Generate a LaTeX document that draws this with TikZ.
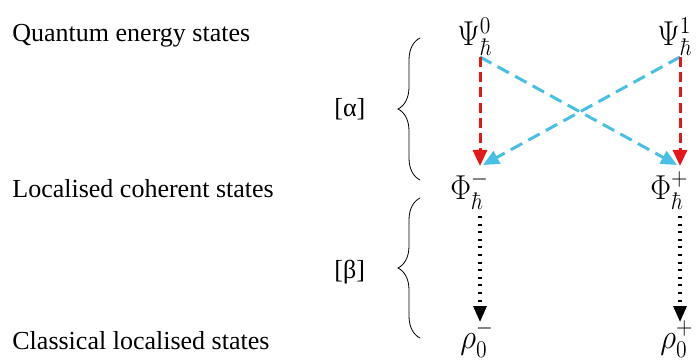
\documentclass[tikz,border=0pt]{standalone}
\usepackage[no-math]{fontspec}
\setmainfont{Liberation Serif}
\usepackage{amsmath}
\usetikzlibrary{arrows.meta, positioning, calc, decorations.pathreplacing}
\definecolor{redline}{RGB}{228,24,24}
\definecolor{skyline}{RGB}{72,192,230}
\newcommand{\narrow}[1]{\scalebox{0.9}[1]{#1}}

\begin{document}
\begin{tikzpicture}[x=0.5pt, y=-0.5pt,
  rowlabel/.style={anchor=base west, inner sep=0pt, font=\fontsize{13}{15}\selectfont},
  state/.style={anchor=base west, inner sep=0pt, font=\fontsize{18}{21}\selectfont},
  redarrow/.style={redline, line width=1.5pt, dash pattern=on 5pt off 2.6pt, -{Triangle[width=7pt,length=8pt]}},
  skyarrow/.style={skyline, line width=1.5pt, dash pattern=on 6.5pt off 3.5pt, -{Triangle[width=7pt,length=8pt]}},
  dotarrow/.style={black, line width=1.6pt, dash pattern=on 1pt off 2.8pt, -{Triangle[width=6.5pt,length=8pt]}},
  bracket/.style={decorate, decoration={brace, amplitude=11pt}, line width=0.4pt}
]
  \useasboundingbox (0,0) rectangle (700,363);

  % row labels
  \node[rowlabel] (quantum) at (12,42) {Quantum energy states};
  \node[rowlabel] (coherent) at (12,198) {Localised coherent states};
  \node[rowlabel] (classical) at (12,349) {Classical localised states};
  \node[rowlabel] (alpha) at (334,117) {[α]};
  \node[rowlabel] (beta) at (334,278) {[β]};

  % braces
  \draw[bracket] (420,180) -- (420,38);
  \draw[bracket] (420,338) -- (420,198);

  % states
  \node[state] (psi0) at (457,46) {\narrow{$\Psi_\hbar^0$}};
  \node[state] (psi1) at (657,46) {\narrow{$\Psi_\hbar^1$}};
  \node[state] (phim) at (450,199) {\narrow{$\Phi_\hbar^-$}};
  \node[state] (phip) at (650,199) {\narrow{$\Phi_\hbar^+$}};
  \node[state] (rhom) at (460,348) {\narrow{$\rho_0^-$}};
  \node[state] (rhop) at (660,348) {\narrow{$\rho_0^+$}};

  \coordinate (psi0-s) at (480,57);
  \coordinate (psi1-s) at (680,57);
  \coordinate (phim-n) at (480,166);
  \coordinate (phip-n) at (680,166);
  \coordinate (phim-x) at (483,165);
  \coordinate (phip-x) at (677,165);
  \coordinate (phim-s) at (480,216);
  \coordinate (phip-s) at (680,216);
  \coordinate (rhom-n) at (480,322);
  \coordinate (rhop-n) at (680,322);

  % transitions [alpha]
  \draw[skyarrow] (psi0-s) -- (phip-x);
  \draw[skyarrow] (psi1-s) -- (phim-x);
  \draw[redarrow] (psi0-s) -- (phim-n);
  \draw[redarrow] (psi1-s) -- (phip-n);

  % limits [beta]
  \draw[dotarrow] (phim-s) -- (rhom-n);
  \draw[dotarrow] (phip-s) -- (rhop-n);
\end{tikzpicture}
\end{document}
